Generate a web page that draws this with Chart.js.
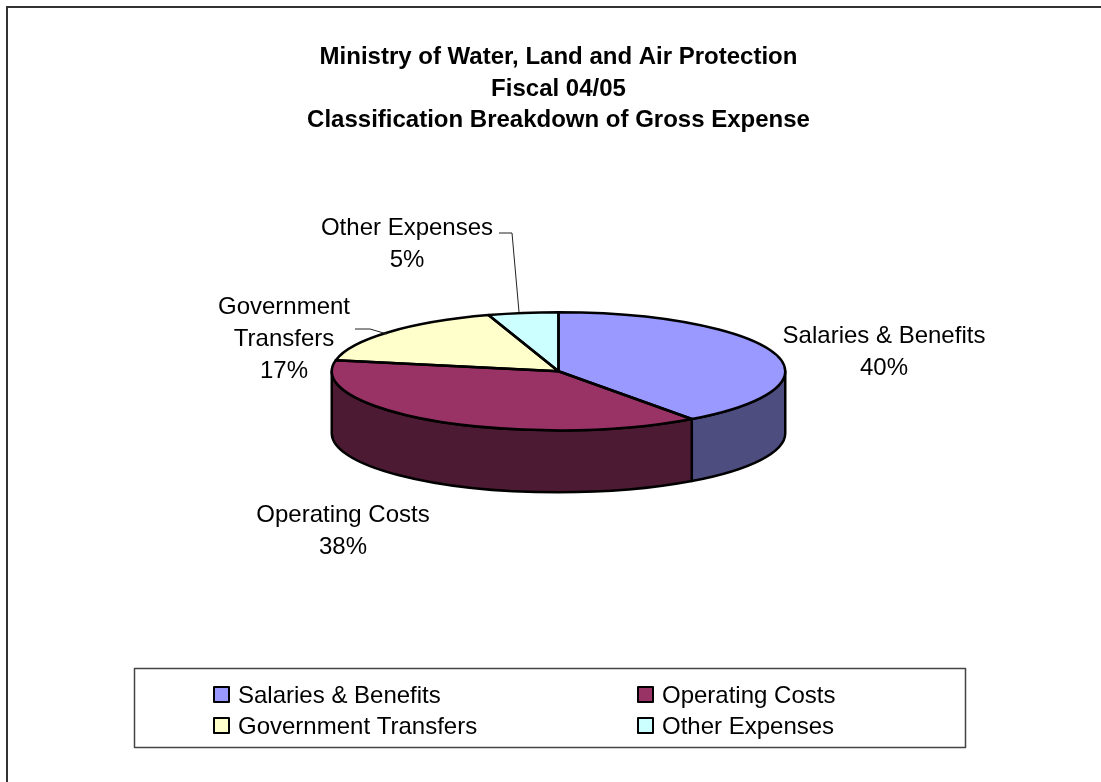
<!DOCTYPE html>
<html>
<head>
<meta charset="utf-8">
<title>Gross Expense</title>
<script src="https://cdn.jsdelivr.net/npm/chart.js@4"></script>
<style>
  html, body { margin: 0; background: #fff; }
  canvas { display: block; }
</style>
</head>
<body>
<canvas id="myChart" width="1101" height="782"></canvas>
<script>
const titleLines = [
  "Ministry of Water, Land and Air Protection",
  "Fiscal 04/05",
  "Classification Breakdown of Gross Expense",
];
const categories = ["Salaries & Benefits", "Operating Costs", "Government Transfers", "Other Expenses"];
const percents = [40, 38, 17, 5];
const topColors = ["#9999FF", "#993366", "#FFFFCC", "#CCFFFF"];
const sideColors = ["#4D4D80", "#4D1A33", "#80805F", "#668080"];

const FONT = '24px "Liberation Sans", Arial, sans-serif';
const SQUASH = 59 / 226.5;
const DEPTH = 62;

const sliceLabels = [
  { x: 884, y: 343, lines: [categories[0], percents[0] + "%"] },
  { x: 343, y: 522, lines: [categories[1], percents[1] + "%"] },
  { x: 284, y: 314, lines: ["Government", "Transfers", percents[2] + "%"] },
  { x: 407, y: 235, lines: [categories[3], percents[3] + "%"] },
];
const leaders = [
  [[499, 233], [512, 233], [519, 312]],
  [[355, 329], [370, 329], [387, 334]],
];
const legendCells = [
  { x: 214, y: 687 },
  { x: 638, y: 687 },
  { x: 214, y: 718 },
  { x: 638, y: 718 },
];

const drawSides = (ctx, arcs) => {
  arcs.forEach((arc, i) => {
    const { x, y, outerRadius, startAngle, endAngle } = arc;
    const a = Math.max(startAngle, 0);
    const b = Math.min(endAngle, Math.PI);
    if (a >= b) return;
    const ry = outerRadius * SQUASH;
    ctx.beginPath();
    ctx.ellipse(x, y, outerRadius, ry, 0, a, b);
    ctx.ellipse(x, y + DEPTH, outerRadius, ry, 0, b, a, true);
    ctx.closePath();
    ctx.fillStyle = sideColors[i];
    ctx.fill();
    ctx.lineWidth = 2.5;
    ctx.strokeStyle = "#000";
    ctx.lineJoin = "round";
    ctx.stroke();
  });
};

const outlineTop = (ctx, arcs) => {
  arcs.forEach((arc) => {
    const { x, y, outerRadius, startAngle, endAngle } = arc;
    ctx.beginPath();
    ctx.moveTo(x, y);
    ctx.ellipse(x, y, outerRadius, outerRadius * SQUASH, 0, startAngle, endAngle);
    ctx.closePath();
    ctx.lineWidth = 2.5;
    ctx.strokeStyle = "#000";
    ctx.lineJoin = "round";
    ctx.stroke();
  });
};

const pie3d = {
  id: "pie3d",
  beforeDatasetsDraw(chart) {
    drawSides(chart.ctx, chart.getDatasetMeta(0).data);
  },
  beforeDatasetDraw(chart) {
    const arc = chart.getDatasetMeta(0).data[0];
    const ctx = chart.ctx;
    ctx.save();
    ctx.translate(0, arc.y);
    ctx.scale(1, SQUASH);
    ctx.translate(0, -arc.y);
  },
  afterDatasetDraw(chart) {
    chart.ctx.restore();
    outlineTop(chart.ctx, chart.getDatasetMeta(0).data);
  },
};

const decorations = {
  id: "decorations",
  beforeDraw(chart) {
    const ctx = chart.ctx;
    ctx.save();
    ctx.fillStyle = "#fff";
    ctx.fillRect(0, 0, chart.width, chart.height);
    ctx.strokeStyle = "#333";
    ctx.lineWidth = 2;
    ctx.strokeRect(7, 7, chart.width + 20, chart.height + 20);
    ctx.restore();
  },
  afterDraw(chart) {
    const ctx = chart.ctx;
    ctx.save();
    ctx.font = FONT;
    ctx.fillStyle = "#000";
    ctx.textBaseline = "alphabetic";

    // labels beside the slices
    ctx.textAlign = "center";
    sliceLabels.forEach((label) => {
      label.lines.forEach((line, i) => ctx.fillText(line, label.x, label.y + i * 32));
    });

    ctx.strokeStyle = "#222";
    ctx.lineWidth = 1;
    leaders.forEach((points) => {
      ctx.beginPath();
      points.forEach(([x, y], i) => (i ? ctx.lineTo(x, y) : ctx.moveTo(x, y)));
      ctx.stroke();
    });

    // legend box
    ctx.strokeStyle = "#444";
    ctx.lineWidth = 1.5;
    ctx.strokeRect(134.5, 668.5, 831, 79);
    ctx.textAlign = "left";
    categories.forEach((name, i) => {
      const cell = legendCells[i];
      ctx.fillStyle = topColors[i];
      ctx.fillRect(cell.x, cell.y, 15, 15);
      ctx.strokeStyle = "#000";
      ctx.lineWidth = 2;
      ctx.strokeRect(cell.x, cell.y, 15, 15);
      ctx.fillStyle = "#000";
      ctx.fillText(name, cell.x + 24, cell.y + 16);
    });
    ctx.restore();
  },
};

new Chart(document.getElementById("myChart"), {
  type: "pie",
  data: {
    labels: categories,
    datasets: [
      {
        data: percents,
        backgroundColor: topColors,
        borderWidth: 0,
      },
    ],
  },
  plugins: [decorations, pie3d],
  options: {
    responsive: false,
    animation: false,
    // the plot height sets the pie radius, the wider box leaves room for the title
    layout: { padding: { left: 232, right: 216, top: 0, bottom: 184 } },
    plugins: {
      legend: { display: false },
      tooltip: { enabled: false },
      title: {
        display: true,
        text: titleLines,
        color: "#000",
        font: { family: '"Liberation Sans", Arial, sans-serif', size: 24, weight: "bold", lineHeight: 1.3125 },
        padding: { top: 42, bottom: 8 },
      },
    },
  },
});
</script>
</body>
</html>
